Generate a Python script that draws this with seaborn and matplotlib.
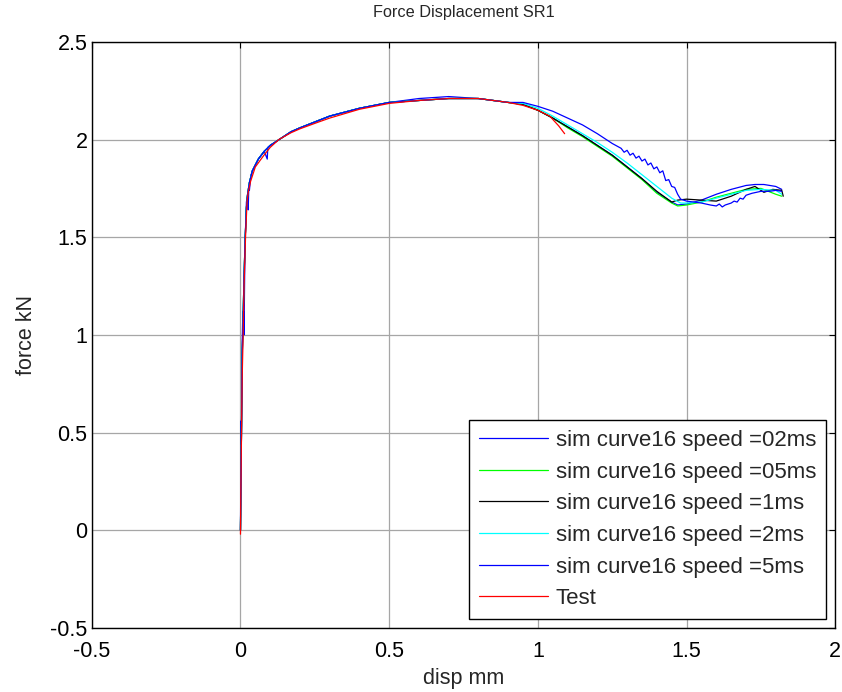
import pandas as pd
import matplotlib
matplotlib.use("Agg")
import matplotlib.pyplot as plt
import seaborn as sns

# shared elastic rise + hardening part (disp mm, force kN)
rise_x = [0.0, 0.002, 0.004, 0.006, 0.009, 0.012, 0.016, 0.02, 0.024, 0.03, 0.04, 0.06,
          0.08, 0.1, 0.13, 0.17, 0.2, 0.25, 0.3, 0.4, 0.5, 0.6, 0.7, 0.8, 0.85, 0.9]
rise_y = [0.0, 0.3, 0.6, 0.9, 1.1, 1.3, 1.5, 1.65, 1.72, 1.78, 1.84, 1.9,
          1.94, 1.97, 2.0, 2.04, 2.06, 2.09, 2.12, 2.16, 2.19, 2.2, 2.21, 2.21, 2.2, 2.19]

# rise of the 02ms run, with its spikes
spike_x = [0.0, 0.001, 0.002, 0.003, 0.005, 0.008, 0.011, 0.012, 0.014, 0.016, 0.02, 0.022,
           0.024, 0.026, 0.028, 0.03, 0.034, 0.036, 0.04, 0.06, 0.08, 0.09, 0.092, 0.1, 0.13,
           0.17, 0.2, 0.25, 0.3, 0.4, 0.5, 0.6, 0.7, 0.8, 0.85, 0.9]
spike_y = [0.0, 0.25, 0.56, 0.44, 0.9, 1.12, 1.12, 1.0, 1.3, 1.5, 1.68, 1.7,
           1.72, 1.64, 1.76, 1.74, 1.8, 1.82, 1.84, 1.9, 1.94, 1.9, 1.96, 1.97, 2.0,
           2.04, 2.06, 2.09, 2.12, 2.16, 2.19, 2.21, 2.22, 2.21, 2.2, 2.19]

tail02_x = [0.95, 1.0, 1.05, 1.1, 1.15, 1.2, 1.25, 1.3, 1.35, 1.4, 1.45, 1.47, 1.5, 1.55,
            1.6, 1.65, 1.7, 1.73, 1.76, 1.8, 1.82]
tail02_y = [2.18, 2.15, 2.11, 2.065, 2.02, 1.97, 1.92, 1.86, 1.8, 1.73, 1.68, 1.665, 1.67, 1.69,
            1.72, 1.745, 1.765, 1.77, 1.77, 1.76, 1.745]

tail05_x = [0.95, 1.0, 1.05, 1.1, 1.15, 1.2, 1.25, 1.3, 1.35, 1.4, 1.45, 1.47, 1.5, 1.55,
            1.6, 1.65, 1.7, 1.75, 1.8, 1.82]
tail05_y = [2.18, 2.15, 2.11, 2.06, 2.015, 1.965, 1.915, 1.855, 1.795, 1.725, 1.675, 1.66, 1.665, 1.68,
            1.705, 1.725, 1.745, 1.75, 1.72, 1.71]

tail1_x = [0.95, 1.0, 1.05, 1.1, 1.15, 1.2, 1.25, 1.3, 1.35, 1.4, 1.45, 1.47, 1.5, 1.55,
           1.6, 1.65, 1.7, 1.73, 1.76, 1.79, 1.82, 1.825]
tail1_y = [2.18, 2.15, 2.11, 2.065, 2.02, 1.97, 1.92, 1.86, 1.8, 1.735, 1.68, 1.69, 1.695, 1.69,
           1.685, 1.71, 1.745, 1.76, 1.73, 1.745, 1.74, 1.71]

tail2_x = [0.95, 1.0, 1.05, 1.1, 1.15, 1.2, 1.25, 1.3, 1.35, 1.4, 1.45, 1.48, 1.5, 1.55,
           1.6, 1.65, 1.7, 1.75, 1.8, 1.82]
tail2_y = [2.185, 2.16, 2.12, 2.075, 2.03, 1.985, 1.935, 1.88, 1.82, 1.76, 1.70, 1.675, 1.675, 1.68,
           1.70, 1.72, 1.74, 1.745, 1.74, 1.72]

tail5_x = [0.95, 1.0, 1.05, 1.1, 1.15, 1.2, 1.25, 1.28, 1.29, 1.3, 1.31, 1.32, 1.33, 1.34,
           1.35, 1.36, 1.37, 1.38, 1.39, 1.4, 1.41, 1.42, 1.43, 1.44, 1.45, 1.46, 1.47, 1.48,
           1.5, 1.55, 1.58, 1.6, 1.61, 1.62, 1.63, 1.65, 1.66, 1.67, 1.68, 1.69, 1.7, 1.72,
           1.75, 1.78, 1.8, 1.82]
tail5_y = [2.19, 2.17, 2.145, 2.11, 2.075, 2.03, 1.98, 1.955, 1.935, 1.945, 1.92, 1.93, 1.905, 1.915,
           1.89, 1.9, 1.87, 1.88, 1.85, 1.86, 1.83, 1.84, 1.79, 1.795, 1.76, 1.755, 1.72, 1.695,
           1.685, 1.675, 1.665, 1.66, 1.67, 1.655, 1.665, 1.675, 1.685, 1.68, 1.7, 1.695, 1.715, 1.725,
           1.735, 1.735, 1.74, 1.735]

test_x = [0.0, 0.002, 0.004, 0.006, 0.009, 0.012, 0.017, 0.022, 0.026, 0.034, 0.05, 0.079,
          0.1, 0.129, 0.17, 0.2, 0.263, 0.3, 0.4, 0.5, 0.6, 0.7, 0.8, 0.85, 0.9, 0.95, 1.0,
          1.04, 1.07, 1.09]
test_y = [-0.02, 0.3, 0.56, 0.8, 1.0, 1.25, 1.5, 1.68, 1.73, 1.786, 1.86, 1.92,
          1.96, 2.0, 2.035, 2.055, 2.09, 2.11, 2.155, 2.185, 2.2, 2.21, 2.21, 2.2, 2.19, 2.175, 2.15,
          2.12, 2.07, 2.03]

labels = ["sim curve16 speed =02ms", "sim curve16 speed =05ms", "sim curve16 speed =1ms",
          "sim curve16 speed =2ms", "sim curve16 speed =5ms", "Test"]
colors = ["#0000ff", "#00ff00", "#000000", "#00ffff", "#0000ff", "#ff0000"]

series = [
    (spike_x + tail02_x, spike_y + tail02_y),
    (rise_x + tail05_x, rise_y + tail05_y),
    (rise_x + tail1_x, rise_y + tail1_y),
    (rise_x + tail2_x, rise_y + tail2_y),
    (rise_x + tail5_x, rise_y + tail5_y),
    (test_x, test_y),
]

frames = []
for lab, (xs, ys) in zip(labels, series):
    frames.append(pd.DataFrame({"disp": xs, "force": ys, "curve": lab}))
df = pd.concat(frames, ignore_index=True)

sns.set_theme(style="white")
plt.rcParams["font.family"] = ["Liberation Sans", "DejaVu Sans"]

fig = plt.figure(figsize=(8.42, 6.92), dpi=100)
ax = fig.add_axes([0.109, 0.0925, 0.883, 0.847])

sns.lineplot(data=df, x="disp", y="force", hue="curve", hue_order=labels,
             palette=dict(zip(labels, colors)), sort=False, estimator=None,
             units="curve", linewidth=0.9, ax=ax)

ax.set_xlim(-0.5, 2)
ax.set_ylim(-0.5, 2.5)
ax.set_xticks([-0.5, 0, 0.5, 1, 1.5, 2])
ax.set_xticklabels(["-0.5", "0", "0.5", "1", "1.5", "2"])
ax.set_yticks([-0.5, 0, 0.5, 1, 1.5, 2, 2.5])
ax.set_yticklabels(["-0.5", "0", "0.5", "1", "1.5", "2", "2.5"])
ax.grid(True, color="#a6a6a6", linewidth=0.9)
ax.set_axisbelow(True)
ax.tick_params(direction="in", length=4, width=0.8, top=True, right=True,
               labelsize=15.5, colors="black")
ax.tick_params(axis="x", pad=9.5)
ax.tick_params(axis="y", pad=3)
for sp in ax.spines.values():
    sp.set_color("black")
    sp.set_linewidth(1.0)

ax.set_title("Force Displacement SR1", fontsize=11.7, pad=18)
ax.set_xlabel("disp mm", fontsize=15.5, labelpad=4.5)
ax.set_ylabel("force kN", fontsize=15.5, labelpad=9.5)

leg = ax.legend(loc="lower right", bbox_to_anchor=(0.988, 0.015), fontsize=16,
                frameon=True, fancybox=False, edgecolor="black", framealpha=1,
                handlelength=3.1, labelspacing=0.48, borderpad=0.45, handletextpad=0.35,
                borderaxespad=0)
leg.get_frame().set_linewidth(1.0)

fig.savefig("out.png", dpi=100)
